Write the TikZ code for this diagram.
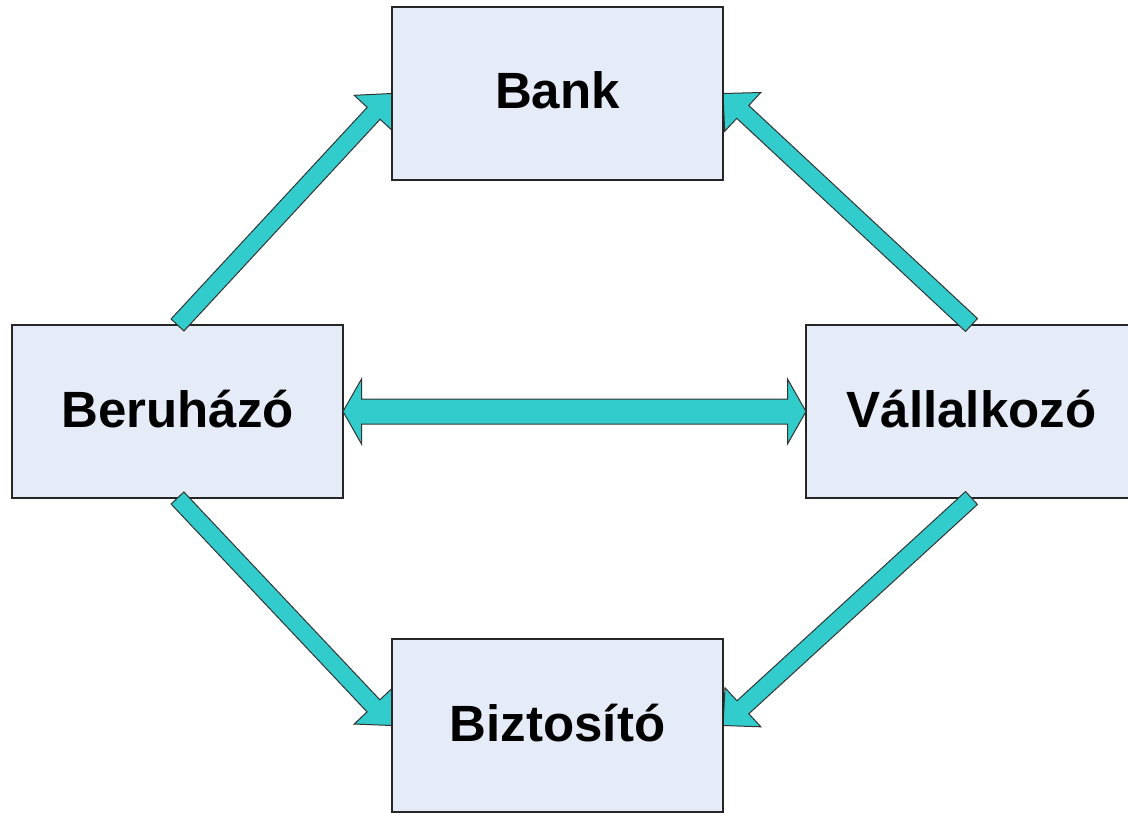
\documentclass[tikz,border=0pt]{standalone}
\usepackage{fontspec}
\setmainfont{Liberation Sans}
\usetikzlibrary{calc}
\definecolor{boxfill}{RGB}{230,236,247}
\definecolor{arrowfill}{RGB}{51,204,204}
\pgfdeclarelayer{back}
\pgfdeclarelayer{front}
\pgfsetlayers{back,main,front}
% single block arrow: #1 from, #2 to, #3 shaft half width, #4 head half width, #5 head length
\newcommand\BlkArrow[5]{%
  \path ($(#2)!#5!(#1)$) coordinate (bah);
  \draw[arrowbody] ($(#1)!#3!90:(#2)$) -- ($(bah)!#3!90:(#2)$) -- ($(bah)!#4!90:(#2)$)
    -- (#2) -- ($(bah)!#4!-90:(#2)$) -- ($(bah)!#3!-90:(#2)$) -- ($(#1)!#3!-90:(#2)$) -- cycle;
}
% double block arrow
\newcommand\DblBlkArrow[5]{%
  \path ($(#1)!#5!(#2)$) coordinate (bha) ($(#2)!#5!(#1)$) coordinate (bhb);
  \draw[arrowbody] (#1) -- ($(bha)!#4!90:(#2)$) -- ($(bha)!#3!90:(#2)$)
    -- ($(bhb)!#3!-90:(#1)$) -- ($(bhb)!#4!-90:(#1)$) -- (#2)
    -- ($(bhb)!#4!90:(#1)$) -- ($(bhb)!#3!90:(#1)$)
    -- ($(bha)!#3!-90:(#2)$) -- ($(bha)!#4!-90:(#2)$) -- cycle;
}
\begin{document}
\begin{tikzpicture}[x=1pt,y=-1pt,
  entity/.style={draw=black!85, line width=1.5pt, fill=boxfill, rectangle,
    minimum width=331pt, minimum height=173pt, inner sep=0pt, outer sep=0pt,
    text height=37pt, text depth=6pt, font=\fontsize{51}{60}\selectfont\bfseries},
  arrowbody/.style={draw=black!80, line width=1pt, fill=arrowfill, line join=miter}]
\useasboundingbox (0,0) rectangle (1128,813);
\begin{pgfonlayer}{back}
  \node[entity] (beru) at (177.5,411.5) {Beruházó};
  \node[entity] (vall) at (971.5,411.5) {Vállalkozó};
\end{pgfonlayer}
\begin{pgfonlayer}{front}
  \node[entity] (bank) at (557.5,93.5) {Bank};
  \node[entity] (bizt) at (557.5,725.5) {Biztosító};
\end{pgfonlayer}
\BlkArrow{beru.north}{bank.west}{8.8pt}{26.5pt}{27pt}
\BlkArrow{vall.north}{bank.east}{8.8pt}{26.5pt}{27pt}
\BlkArrow{beru.south}{bizt.west}{8.8pt}{26.5pt}{27pt}
\BlkArrow{vall.south}{bizt.east}{8.8pt}{26.5pt}{27pt}
\DblBlkArrow{beru.east}{vall.west}{12.5pt}{32.5pt}{18.5pt}
\end{tikzpicture}
\end{document}
